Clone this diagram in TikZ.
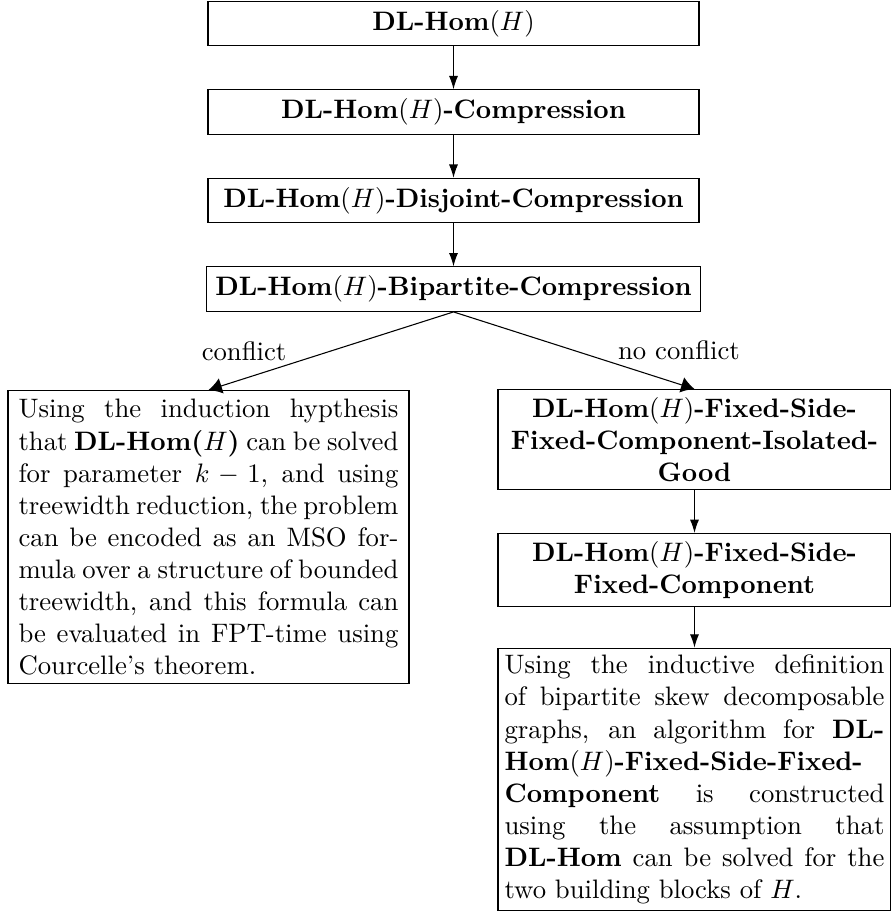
\documentclass[tikz,border=0pt]{standalone}
\usetikzlibrary{positioning,arrows.meta}
\tikzset{
  prob/.style={draw, rectangle, font=\bfseries, minimum width=183.9pt, minimum height=16.1pt, inner sep=3.33pt},
  subprob/.style={draw, rectangle, font=\bfseries, text width=5cm, align=center, inner xsep=2.45pt, inner ysep=2.9pt},
  txt/.style={draw, rectangle, text width=5cm, align=justify, inner ysep=3.33pt},
  step arrow/.style={-{Latex[length=5pt,width=3.4pt]}},
  branch arrow/.style={-{Latex[length=5pt,width=6pt]}},
}
\begin{document}
\begin{tikzpicture}[x=0.3745pt,y=-0.3745pt, node distance=16.1pt]
\useasboundingbox (0,0) rectangle (891,916);
\node(1) [prob] at (453.5,23.5) {DL-Hom$(H)$};
\node(2) [prob, below=of 1] {DL-Hom$(H)$-Compression};
\node(3) [prob, below=of 2] {DL-Hom$(H)$-Disjoint-Compression};
\node(4) [prob, below=of 3] {DL-Hom$(H)$-Bipartite-Compression};
\node(5) [txt, inner xsep=3.95pt, anchor=north] at (208.5,390) {Using the induction hypthesis that \textbf{DL-Hom($H$)} can be solved for parameter $k-1$, and using treewidth reduction, the problem can be encoded as an MSO formula over a structure of bounded treewidth, and this formula can be evaluated in FPT-time using Courcelle's theorem.};
\node(6) [subprob, anchor=north] at (694.5,389) {DL-Hom$(H)$-Fixed-Side-\\Fixed-Component-Isolated-\\Good};
\node(7) [subprob, below=of 6] {DL-Hom$(H)$-Fixed-Side-\\Fixed-Component};
\node(8) [txt, inner xsep=2.45pt, inner ysep=2.6pt, below=15.3pt of 7] {Using the inductive definition of bipartite skew decomposable graphs, an algorithm for \textbf{DL-Hom$(H)$-Fixed-Side-Fixed-Component} is constructed using the assumption that\linebreak \textbf{DL-Hom} can be solved for the two building blocks of $H$.};
\draw[step arrow] (1) to (2);
\draw[step arrow] (2) to (3);
\draw[step arrow] (3) to (4);
\draw[branch arrow] (4.south) to node [left=13.2pt] {conflict} (5.north);
\draw[branch arrow] (4.south) to node [right=13pt] {no conflict} (6.north);
\draw[step arrow] (6) to (7);
\draw[step arrow] (7) to (8);
\end{tikzpicture}
\end{document}
